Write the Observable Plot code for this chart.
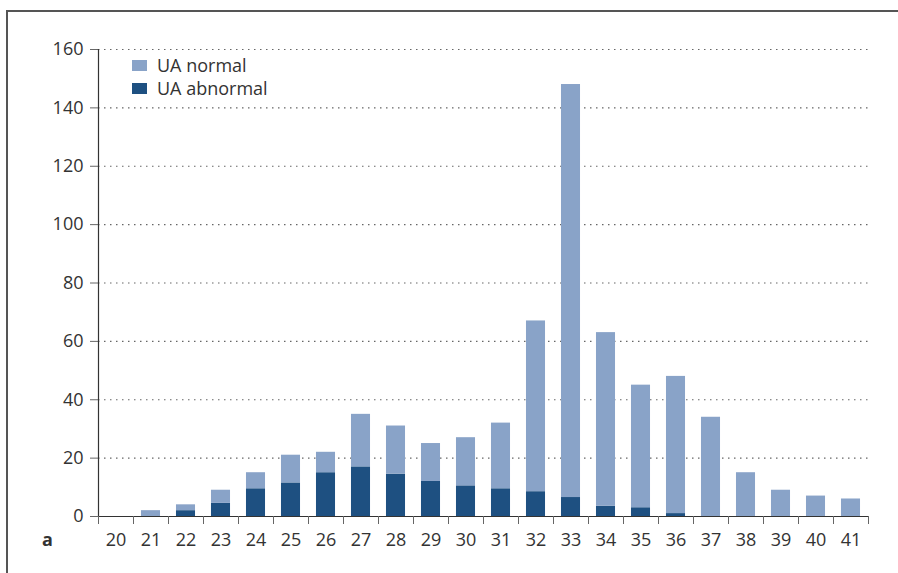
<!DOCTYPE html>
<html><head><meta charset="utf-8">
<script src="https://cdn.jsdelivr.net/npm/d3@7"></script>
<script src="https://cdn.jsdelivr.net/npm/@observablehq/plot@0.6"></script>
<style>
body{margin:0;background:#fff;}
#wrap{position:relative;width:898px;height:573px;overflow:hidden;font-family:"Open Sans",sans-serif;color:#333;}
#frame{position:absolute;left:6px;top:10px;width:1000px;height:1000px;border-top:2px solid #555;border-left:2px solid #555;box-sizing:border-box;}
#chart{position:absolute;left:0;top:0;}
#panel{position:absolute;left:42px;top:529px;font-weight:bold;font-size:18px;line-height:20px;}
.leg{position:absolute;font-size:18px;line-height:20px;white-space:nowrap;}
.sw{position:absolute;width:15px;height:11px;}
</style></head>
<body>
<div id="wrap">
  <div id="frame"></div>
  <div id="chart"></div>
  <div id="panel">a</div>
  <div id="legend"></div>
</div>
<script>
const ages = [20,21,22,23,24,25,26,27,28,29,30,31,32,33,34,35,36,37,38,39,40,41];
const totalCounts = [0,2,4,9,15,21,22,35,31,25,27,32,67,148,63,45,48,34,15,9,7,6];
const abnormalCounts = [0,0,2,4.5,9.5,11.5,15,17,14.5,12,10.5,9.5,8.5,6.5,3.5,3,1,0,0,0,0,0];
const seriesNames = ["UA abnormal","UA normal"];
const seriesColors = ["#1e5081","#89a3c8"];
const legendNames = ["UA normal","UA abnormal"];
const legendColors = ["#89a3c8","#1e5081"];
const yTicks = [0,20,40,60,80,100,120,140,160];

const rows = [];
ages.forEach((a,i)=>{
  rows.push({age:a, group:seriesNames[0], value:abnormalCounts[i]});
  rows.push({age:a, group:seriesNames[1], value:totalCounts[i]-abnormalCounts[i]});
});
const half = 0.272;
const bounds = ages.map(a=>a-0.5).concat([ages[ages.length-1]+0.5]);

const chart = Plot.plot({
  width:898, height:573,
  marginLeft:98, marginRight:30, marginTop:49, marginBottom:57,
  x:{type:"linear", domain:[bounds[0], bounds[bounds.length-1]], label:null},
  y:{domain:[0,160], label:null},
  color:{domain:seriesNames, range:seriesColors},
  style:{fontFamily:"'Open Sans', sans-serif", fontSize:"18px", color:"#333", background:"transparent", overflow:"visible"},
  marks:[
    Plot.gridY(yTicks.filter(d=>d>0), {stroke:"#666", strokeOpacity:1, strokeWidth:1.2, strokeDasharray:"1.5,4.5"}),
    Plot.rectY(rows, {x1:d=>d.age-half, x2:d=>d.age+half, y:"value", fill:"group"}),
    Plot.axisY(yTicks, {tickSize:8, tickPadding:7, stroke:"#666", fill:"#333"}),
    Plot.ruleX([bounds[0]], {y1:0, y2:160, stroke:"#333", strokeWidth:1.2}),
    Plot.ruleY([0], {stroke:"#333", strokeWidth:1.2}),
    Plot.axisX(bounds, {tickSize:8, tickFormat:()=>"", stroke:"#666"}),
    Plot.axisX(ages, {tickSize:0, tickPadding:17, tickFormat:d=>String(d), fill:"#333"})
  ]
});
document.getElementById("chart").appendChild(chart);

const leg = document.getElementById("legend");
legendNames.forEach((n,i)=>{
  const sw = document.createElement("div");
  sw.className="sw"; sw.style.left="132px"; sw.style.top=(60+i*23)+"px"; sw.style.background=legendColors[i];
  leg.appendChild(sw);
  const t = document.createElement("div");
  t.className="leg"; t.style.left="157px"; t.style.top=(55+i*23)+"px"; t.textContent=n;
  leg.appendChild(t);
});
</script>
</body></html>
